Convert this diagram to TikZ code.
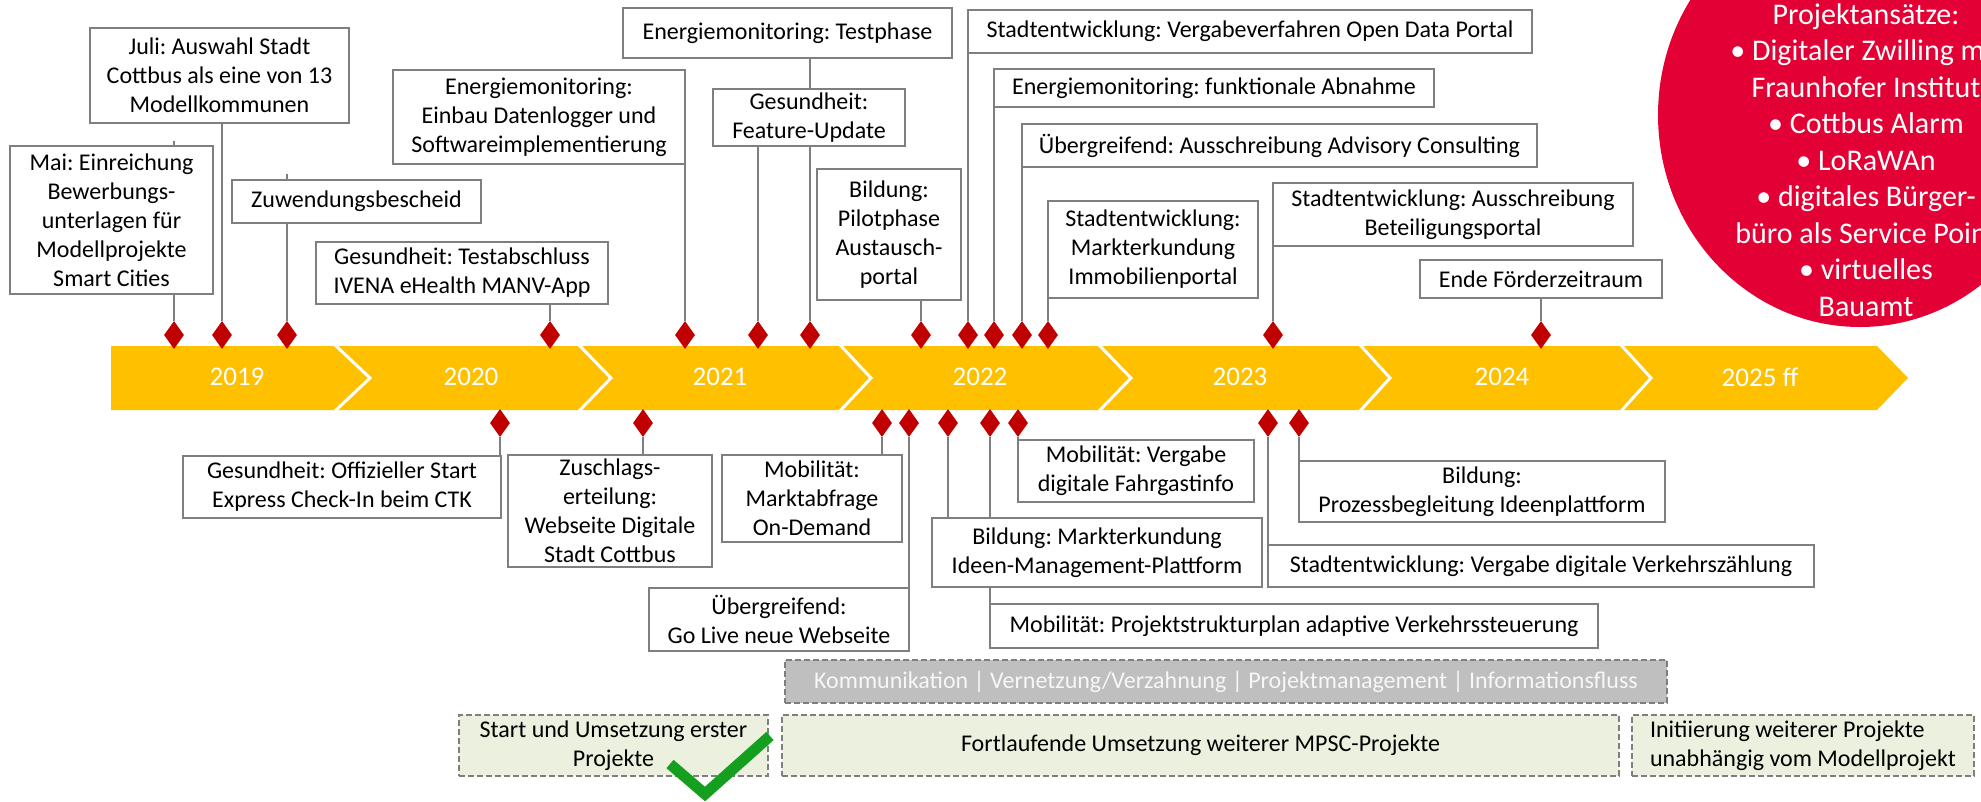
\documentclass[tikz,border=0pt]{standalone}
\usepackage{fontspec}
\setmainfont{Carlito}
\usetikzlibrary{shapes.geometric,calc}
\definecolor{bargold}{RGB}{255,192,0}
\definecolor{dred}{RGB}{192,0,0}
\definecolor{cred}{RGB}{227,0,52}
\definecolor{bgray}{RGB}{127,127,127}
\definecolor{lgreen}{RGB}{235,241,222}
\definecolor{bandgray}{RGB}{191,191,191}
\definecolor{chk}{RGB}{20,160,30}
\pgfdeclarelayer{background}
\pgfsetlayers{background,main}
\newcommand\bx[7][]{\node[box,#1,minimum width={#5-#3},minimum height={#6-#4}] (#2) at ({(#3+#5)/2},{(#4+#6)/2}) {#7};}
\tikzset{
  box/.style={draw=bgray, line width=1.8pt, fill=white, inner sep=0pt, align=center,
    font=\fontsize{24}{29}\selectfont\frenchspacing, text=black},
  dia/.style={diamond, fill=dred, inner sep=0pt, minimum width=20pt, minimum height=28pt},
  conn/.style={draw=bgray, line width=1.8pt},
  year/.style={text=white, font=\fontsize{27}{30}\selectfont, inner sep=0pt},
  band/.style={fill=bandgray, draw=bgray, line width=1.5pt, dash pattern=on 6pt off 3pt, text=white!94!gray},
  gbox/.style={fill=lgreen, draw=bgray, line width=1.5pt, dash pattern=on 6pt off 3pt},
  circtext/.style={text=white, align=center, font=\fontsize{30}{36.5}\selectfont\frenchspacing, inner sep=0pt}
}
\begin{document}
\frenchspacing
\begin{tikzpicture}[x=1pt,y=-1pt]
\useasboundingbox (0,0) rectangle (1981,801);
\clip (0,0) rectangle (1981,801);

% red circle
\fill[cred] (1860,115) ellipse [x radius=202, y radius=212];
\node[circtext] (ct) at (1866,160) {Projektansätze:\\• Digitaler Zwilling mit\\Fraunhofer Institut\\• Cottbus Alarm\\• LoRaWAn\\• digitales Bürger-\\büro als Service Point\\• virtuelles\\Bauamt};

% timeline bar
\begin{pgfonlayer}{background}
\fill[bargold] (111,346) -- (1877,346) -- (1908,378) -- (1877,410) -- (111,410) -- cycle;
\foreach \a/\b in {335/370,579/611,840/871,1099/1131,1360/1390,1621/1651}
  \draw[white,line width=3pt] (\a,345) -- (\b,378) -- (\a,411);
\end{pgfonlayer}
\node[year] (y19) at (237,377) {2019};
\node[year] (y20) at (471,377) {2020};
\node[year] (y21) at (720,377) {2021};
\node[year] (y22) at (980,377) {2022};
\node[year] (y23) at (1240,377) {2023};
\node[year] (y24) at (1502,377) {2024};
\node[year] (y25) at (1760,377) {2025 ff};

% top diamonds
\foreach \n/\x in {1/174,2/222,3/287,4/550,5/685,6/758,7/810,8/921,9/968,10/994,11/1022,12/1048,13/1273,14/1541}
  \node[dia] (t\n) at (\x,335) {};
% bottom diamonds
\foreach \n/\x in {1/500,2/643,3/882,4/909,5/948,6/990,7/1018,8/1268,9/1299}
  \node[dia] (b\n) at (\x,423) {};

% top boxes
\bx{mai}{10}{146}{213}{294}{Mai: Einreichung\\Bewerbungs-\\unterlagen für\\Modellprojekte\\Smart Cities}
\bx{juli}{90}{28}{349}{123}{Juli: Auswahl Stadt\\Cottbus als eine von 13\\Modellkommunen}
\bx{zuw}{232}{180}{481}{223}{Zuwendungsbescheid}
\bx{testab}{316}{242}{608}{304}{Gesundheit: Testabschluss\\IVENA eHealth MANV-App}
\bx{einbau}{393}{70}{685}{164}{Energiemonitoring:\\Einbau Datenlogger und\\Softwareimplementierung}
\bx{testph}{623}{8}{952}{58}{Energiemonitoring: Testphase}
\bx{feat}{713}{89}{905}{146}{Gesundheit:\\Feature-Update}
\bx{pilot}{817}{169}{961}{300}{Bildung:\\Pilotphase\\Austausch-\\portal}
\bx{odp}{968}{10}{1532}{53}{Stadtentwicklung: Vergabeverfahren Open Data Portal}
\bx{funk}{994}{69}{1434}{107}{Energiemonitoring: funktionale Abnahme}
\bx{adv}{1022}{124}{1537}{167}{Übergreifend: Ausschreibung Advisory Consulting}
\bx{immo}{1048}{201}{1258}{298}{Stadtentwicklung:\\Markterkundung\\Immobilienportal}
\bx{beteil}{1273}{183}{1633}{246}{Stadtentwicklung: Ausschreibung\\Beteiligungsportal}
\bx{ende}{1420}{260}{1662}{298}{Ende Förderzeitraum}

% bottom boxes
\bx{offstart}{183}{456}{501}{518}{Gesundheit: Offizieller Start\\Express Check-In beim CTK}
\bx{zus}{508}{455}{712}{567}{Zuschlags-\\erteilung:\\Webseite Digitale\\Stadt Cottbus}
\bx{markt}{722}{455}{902}{542}{Mobilität:\\Marktabfrage\\On-Demand}
\bx{golive}{649}{588}{909}{651}{Übergreifend:\\Go Live neue Webseite}
\bx{ideen}{932}{518}{1262}{587}{Bildung: Markterkundung\\Ideen-Management-Plattform}
\bx{psp}{990}{604}{1598}{648}{Mobilität: Projektstrukturplan adaptive Verkehrssteuerung}
\bx{fahr}{1018}{440}{1254}{502}{Mobilität: Vergabe\\digitale Fahrgastinfo}
\bx{verk}{1268}{545}{1814}{587}{Stadtentwicklung: Vergabe digitale Verkehrszählung}
\bx{proz}{1299}{461}{1665}{522}{Bildung:\\Prozessbegleitung Ideenplattform}

% connectors
\begin{pgfonlayer}{background}
\draw[conn] (t1) -- ($(t1 |- mai.north)+(0,-4)$);
\draw[conn] (t2) -- (t2 |- juli.south);
\draw[conn] (t3) -- ($(t3 |- zuw.north)+(0,-5)$);
\draw[conn] (t4) -- (t4 |- testab.south);
\draw[conn] (t5) -- (t5 |- einbau.south);
\draw[conn] (t6) -- (t6 |- feat.south);
\draw[conn] (t7) -- (t7 |- testph.south);
\draw[conn] (t8) -- (t8 |- pilot.south);
\draw[conn] (t9) -- (t9 |- odp.south);
\draw[conn] (t10) -- (t10 |- funk.south);
\draw[conn] (t11) -- (t11 |- adv.south);
\draw[conn] (t12) -- (t12 |- immo.south);
\draw[conn] (t13) -- (t13 |- beteil.south);
\draw[conn] (t14) -- (t14 |- ende.south);
\draw[conn] (b1) -- (b1 |- offstart.north);
\draw[conn] (b2) -- (b2 |- zus.north);
\draw[conn] (b3) -- (b3 |- markt.north);
\draw[conn] (b4) -- (b4 |- golive.north);
\draw[conn] (b5) -- (b5 |- ideen.north);
\draw[conn] (b6) -- (b6 |- psp.north);
\draw[conn] (b7) -- (b7 |- fahr.north);
\draw[conn] (b8) -- (b8 |- verk.north);
\draw[conn] (b9) -- (b9 |- proz.north);
\end{pgfonlayer}

% bottom phases
\bx[band]{comm}{785}{660}{1667}{703}{Kommunikation | Vernetzung/Verzahnung | Projektmanagement | Informationsfluss}
\bx[gbox]{ph1}{459}{715}{768}{776}{Start und Umsetzung erster\\Projekte}
\bx[gbox]{ph2}{782}{715}{1619}{776}{Fortlaufende Umsetzung weiterer MPSC-Projekte}
\bx[gbox,align=left]{ph3}{1632}{715}{1974}{776}{Initiierung weiterer Projekte\\unabhängig vom Modellprojekt}

% check mark
\draw[chk, line width=11pt] (670,764) -- (705,794) -- (770,736);
\end{tikzpicture}
\end{document}
